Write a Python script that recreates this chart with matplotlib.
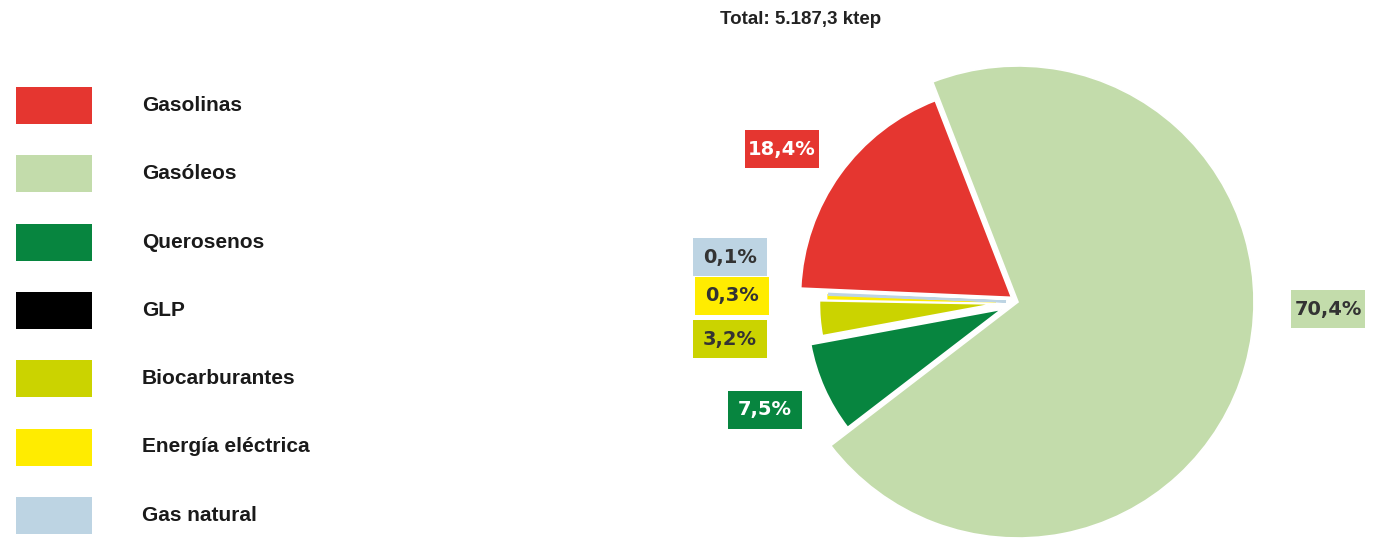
#!/usr/bin/env python3
import matplotlib
matplotlib.use('Agg')
import matplotlib.pyplot as plt
from matplotlib.patches import Rectangle

# data
fuels = ['Gasolinas', 'Gasóleos', 'Querosenos', 'GLP', 'Biocarburantes',
         'Energía eléctrica', 'Gas natural']
shares = [18.4, 70.4, 7.5, 0.0, 3.2, 0.3, 0.1]
colors = ['#E53630', '#C3DCAB', '#07853F', '#000000', '#CBD300',
          '#FFEC00', '#BDD4E3']
total_text = 'Total: 5.187,3 ktep'

# layout (pixels, y measured from the top)
W, H = 1373, 549
center = (1018, 302)
radius = 236
explode_px = [8, 0, 18, 0, 24, 22, 12]
radius_scale = [0.894, 1.0, 0.822, 0.8, 0.74, 0.71, 0.75]
label_pos = {
    'Gasolinas': (782, 149),
    'Gasóleos': (1328, 309),
    'Querosenos': (765, 410),
    'Biocarburantes': (730, 339),
    'Energía eléctrica': (732, 296),
    'Gas natural': (730, 257),
}
white_text = {'Gasolinas', 'Querosenos'}
thin_slices = {'Energía eléctrica', 'Gas natural'}

plt.rcParams['font.family'] = ['Liberation Sans', 'DejaVu Sans']


def py(y):
    """Convert a top-based pixel row to the axes' y coordinate."""
    return H - y


def main():
    fig = plt.figure(figsize=(W / 100, H / 100), dpi=100)
    ax = fig.add_axes([0, 0, 1, 1])

    wedges, _ = ax.pie(shares, colors=colors, explode=explode_px,
                       startangle=177.5, counterclock=False,
                       center=(center[0], py(center[1])), radius=radius,
                       wedgeprops=dict(edgecolor='white', linewidth=1.2),
                       frame=True)
    ax.set_xlim(0, W)
    ax.set_ylim(0, H)
    ax.set_aspect('equal')
    ax.axis('off')
    for w, s, name, col in zip(wedges, radius_scale, fuels, colors):
        w.set_radius(radius * s)
        if name in thin_slices:
            # keep the slivers visible
            w.set_edgecolor(col)
            w.set_linewidth(1.6)
            w.set_zorder(3)

    # percentage labels in coloured boxes
    for name, val, col in zip(fuels, shares, colors):
        if name not in label_pos:
            continue
        x, y = label_pos[name]
        txt = f'{val:.1f}%'.replace('.', ',')
        ax.add_patch(Rectangle((x - 37, py(y + 19)), 74, 38, fc=col,
                               ec='none', zorder=3))
        ax.text(x, py(y), txt, ha='center', va='center', fontsize=14,
                fontweight='bold', family='DejaVu Sans', zorder=4,
                color='white' if name in white_text else '#333333')

    ax.text(801, py(20), total_text, ha='center', va='center',
            fontsize=13.5, fontweight='bold', color='#222222')

    # legend
    for i, (name, col) in enumerate(zip(fuels, colors)):
        yc = 105.5 + i * 68.3
        ax.add_patch(Rectangle((16, py(yc + 18.5)), 76, 37, fc=col,
                               ec='none'))
        ax.text(142, py(yc), name, ha='left', va='center', fontsize=15,
                fontweight='bold', color='#1a1a1a')

    fig.savefig('out.png', dpi=100)


if __name__ == '__main__':
    main()
